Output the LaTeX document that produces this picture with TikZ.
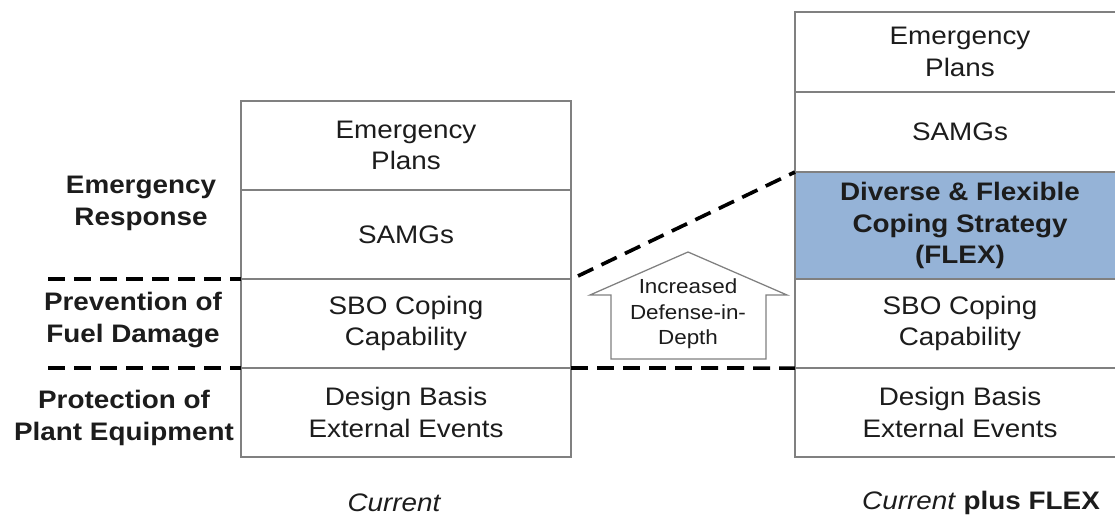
\documentclass[tikz,border=0pt]{standalone}
\usepackage{fontspec}
\setmainfont{Liberation Sans}[FakeStretch=1.1]
\usetikzlibrary{positioning}
\definecolor{flexblue}{HTML}{95B3D7}
\definecolor{rimgray}{HTML}{808080}
\definecolor{ink}{HTML}{1C1C1C}

\begin{document}
\begin{tikzpicture}[
    x=0.025cm, y=-0.025cm,
    node distance=0pt,
    layer/.style={draw=rimgray, line width=0.9pt, outer sep=0pt, fill=white, minimum width=8.25cm, minimum height=2.225cm, align=center, inner sep=0pt, text=ink, font=\fontsize{18}{22.5}\selectfont},
    short/.style={layer, minimum height=2cm},
    flexbox/.style={layer, fill=flexblue, minimum height=2.675cm, font=\fontsize{18}{22.5}\selectfont\bfseries},
    tier/.style={align=center, text=ink, font=\fontsize{18}{22.8}\selectfont\bfseries},
    divider/.style={line width=2.6pt, dash pattern=on 12pt off 6.5pt},
    caption/.style={text=ink, font=\fontsize{18}{22}\selectfont}]
  \useasboundingbox (0,0) rectangle (1115,517);
  \clip (0,0) rectangle (1115,517);

  % current column
  \node[layer] (planL) at (406,145.5) {Emergency\\Plans};
  \node[layer, below=of planL] (samgL) {SAMGs};
  \node[layer, below=of samgL] (sboL) {SBO Coping\\Capability};
  \node[layer, below=of sboL] (dbeeL) {Design Basis\\External Events};

  % column with FLEX added
  \node[short] (planR) at (960,52) {Emergency\\Plans};
  \node[short, below=of planR] (samgR) {SAMGs};
  \node[flexbox, below=of samgR] (flex) {Diverse \& Flexible\\Coping Strategy\\(FLEX)};
  \node[layer, below=of flex] (sboR) {SBO Coping\\Capability};
  \node[layer, below=of sboR] (dbeeR) {Design Basis\\External Events};

  % tiers of protection
  \node[tier] (resp) at (141,203) {Emergency\\Response};
  \node[tier] (prev) at (133,320) {Prevention of\\Fuel Damage};
  \node[tier] (prot) at (124,418) {Protection of\\Plant Equipment};

  \coordinate (cut1) at (48,279);
  \coordinate (cut2) at (48,368);
  \coordinate (slant) at (578,276);
  \draw[divider] (cut1) -- (samgL.south west);
  \draw[divider] (cut2) -- (sboL.south west);
  \draw[divider] (slant) -- (flex.north west);
  \draw[divider] (sboL.south east) -- (sboR.south west);

  % up arrow
  \draw[rimgray, line width=0.9pt, fill=white]
    (611,359) -- (611,295) -- (590,295) -- (688,252) -- (787,295)
    -- (766,295) -- (766,359) -- cycle;
  \node[align=center, text=ink, font=\fontsize{14.5}{18}\selectfont] (did) at (688,314) {Increased\\Defense-in-\\Depth};

  \node[caption] (curL) at (394,503) {\itshape Current};
  \node[caption] (curR) at (981,503) {\textit{Current} \textbf{plus FLEX}};
\end{tikzpicture}
\end{document}
